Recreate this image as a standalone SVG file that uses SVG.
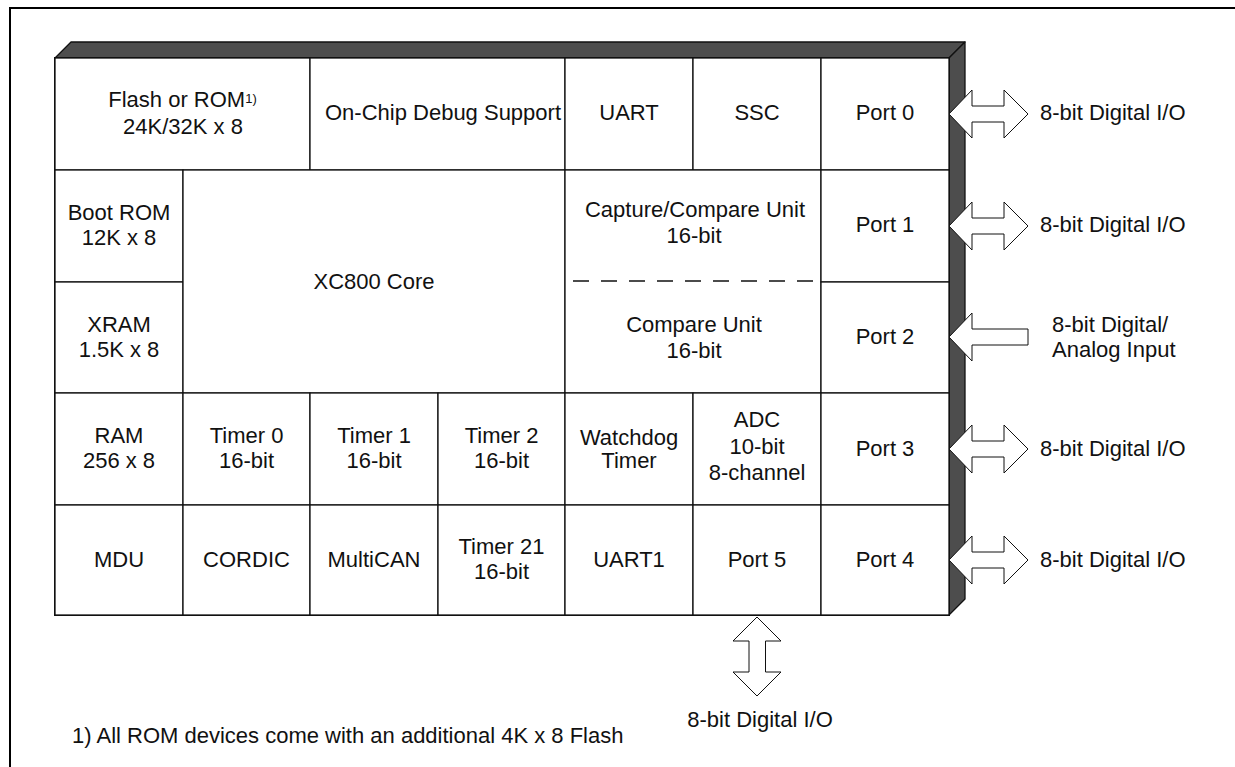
<svg xmlns="http://www.w3.org/2000/svg" width="1235" height="767" viewBox="0 0 1235 767">
<defs>
<style>
text{font-family:"Liberation Sans",Arial,sans-serif;font-size:22px;fill:#111;}
.c{text-anchor:middle;}
.cell{fill:#fff;stroke:#111;stroke-width:1.3;}
.arr{fill:#fff;stroke:#111;stroke-width:1;stroke-linejoin:miter;}
.bevel{fill:#4d4d4d;stroke:#111;stroke-width:1.3;stroke-linejoin:round;}
</style>
<path id="dbl" d="M949,0 L972,-24 L972,-8 L1004,-8 L1004,-24 L1028,0 L1004,24 L1004,8 L972,8 L972,24 Z"/>
</defs>
<rect width="1235" height="767" fill="#fff"/>
<path d="M10,767 V8 H1235" fill="none" stroke="#000" stroke-width="2"/>

<g id="chip-body">
<polygon class="bevel" points="55,58 71,42 965,42 949,58"/>
<polygon class="bevel" points="949,58 965,42 965,599 949,615"/>
<rect x="55" y="58" width="894" height="557" fill="#fff" stroke="#111" stroke-width="2"/>
</g>

<g id="flash"><rect class="cell" x="55" y="58" width="255" height="112"/>
<text class="c" x="182.5" y="107">Flash or ROM<tspan font-size="13" dy="-4">1)</tspan></text>
<text class="c" x="183" y="134">24K/32K x 8</text></g>
<g id="ocds"><rect class="cell" x="310" y="58" width="255" height="112"/><text class="c" x="443" y="120">On-Chip Debug Support</text></g>
<g id="uart"><rect class="cell" x="565" y="58" width="128" height="112"/><text class="c" x="629" y="120">UART</text></g>
<g id="ssc"><rect class="cell" x="693" y="58" width="128" height="112"/><text class="c" x="757" y="120">SSC</text></g>
<g id="port0"><rect class="cell" x="821" y="58" width="128" height="112"/><text class="c" x="885" y="120">Port 0</text></g>

<g id="bootrom"><rect class="cell" x="55" y="170" width="128" height="112"/><text class="c" x="119" y="220">Boot ROM</text><text class="c" x="119" y="245">12K x 8</text></g>
<g id="xram"><rect class="cell" x="55" y="282" width="128" height="111"/><text class="c" x="119" y="332">XRAM</text><text class="c" x="119" y="357">1.5K x 8</text></g>
<g id="core"><rect class="cell" x="183" y="170" width="382" height="223"/><text class="c" x="374" y="289">XC800 Core</text></g>
<g id="ccu"><rect class="cell" x="565" y="170" width="256" height="223"/>
<text class="c" x="695" y="217">Capture/Compare Unit</text><text class="c" x="694" y="243">16-bit</text>
<line x1="573" y1="281" x2="813" y2="281" stroke="#111" stroke-width="1.3" stroke-dasharray="16 12"/>
<text class="c" x="694" y="332">Compare Unit</text><text class="c" x="694" y="358">16-bit</text></g>
<g id="port1"><rect class="cell" x="821" y="170" width="128" height="112"/><text class="c" x="885" y="232">Port 1</text></g>
<g id="port2"><rect class="cell" x="821" y="282" width="128" height="111"/><text class="c" x="885" y="344">Port 2</text></g>

<g id="ram"><rect class="cell" x="55" y="393" width="128" height="112"/><text class="c" x="119" y="443">RAM</text><text class="c" x="119" y="468">256 x 8</text></g>
<g id="timer0"><rect class="cell" x="183" y="393" width="127" height="112"/><text class="c" x="246.5" y="443">Timer 0</text><text class="c" x="246.5" y="468">16-bit</text></g>
<g id="timer1"><rect class="cell" x="310" y="393" width="128" height="112"/><text class="c" x="374" y="443">Timer 1</text><text class="c" x="374" y="468">16-bit</text></g>
<g id="timer2"><rect class="cell" x="438" y="393" width="127" height="112"/><text class="c" x="501.5" y="443">Timer 2</text><text class="c" x="501.5" y="468">16-bit</text></g>
<g id="wdt"><rect class="cell" x="565" y="393" width="128" height="112"/><text class="c" x="629" y="445">Watchdog</text><text class="c" x="629" y="468">Timer</text></g>
<g id="adc"><rect class="cell" x="693" y="393" width="128" height="112"/><text class="c" x="757" y="427">ADC</text><text class="c" x="757" y="454">10-bit</text><text class="c" x="757" y="480">8-channel</text></g>
<g id="port3"><rect class="cell" x="821" y="393" width="128" height="112"/><text class="c" x="885" y="456">Port 3</text></g>

<g id="mdu"><rect class="cell" x="55" y="505" width="128" height="110"/><text class="c" x="119" y="567">MDU</text></g>
<g id="cordic"><rect class="cell" x="183" y="505" width="127" height="110"/><text class="c" x="246.5" y="567">CORDIC</text></g>
<g id="multican"><rect class="cell" x="310" y="505" width="128" height="110"/><text class="c" x="374" y="567">MultiCAN</text></g>
<g id="timer21"><rect class="cell" x="438" y="505" width="127" height="110"/><text class="c" x="501.5" y="554">Timer 21</text><text class="c" x="501.5" y="579">16-bit</text></g>
<g id="uart1"><rect class="cell" x="565" y="505" width="128" height="110"/><text class="c" x="629" y="567">UART1</text></g>
<g id="port5"><rect class="cell" x="693" y="505" width="128" height="110"/><text class="c" x="757" y="567">Port 5</text></g>
<g id="port4"><rect class="cell" x="821" y="505" width="128" height="110"/><text class="c" x="885" y="567">Port 4</text></g>

<g id="connectors">
<use href="#dbl" class="arr" transform="translate(0,114)"/>
<use href="#dbl" class="arr" transform="translate(0,226)"/>
<path class="arr" d="M949,337 L972,313 L972,329 L1028,329 L1028,345 L972,345 L972,361 Z"/>
<use href="#dbl" class="arr" transform="translate(0,449)"/>
<use href="#dbl" class="arr" transform="translate(0,560)"/>
<path class="arr" d="M757,617 L781,641 L765.5,641 L765.5,672 L781,672 L757,696 L733,672 L749,672 L749,641 L733,641 Z"/>
</g>

<g id="labels">
<text x="1040" y="120">8-bit Digital I/O</text>
<text x="1040" y="232">8-bit Digital I/O</text>
<text x="1052" y="332">8-bit Digital/</text>
<text x="1052" y="357">Analog Input</text>
<text x="1040" y="456">8-bit Digital I/O</text>
<text x="1040" y="567">8-bit Digital I/O</text>
<text class="c" x="760" y="727">8-bit Digital I/O</text>
<text x="72" y="743">1) All ROM devices come with an additional 4K x 8 Flash</text>
</g>
</svg>
